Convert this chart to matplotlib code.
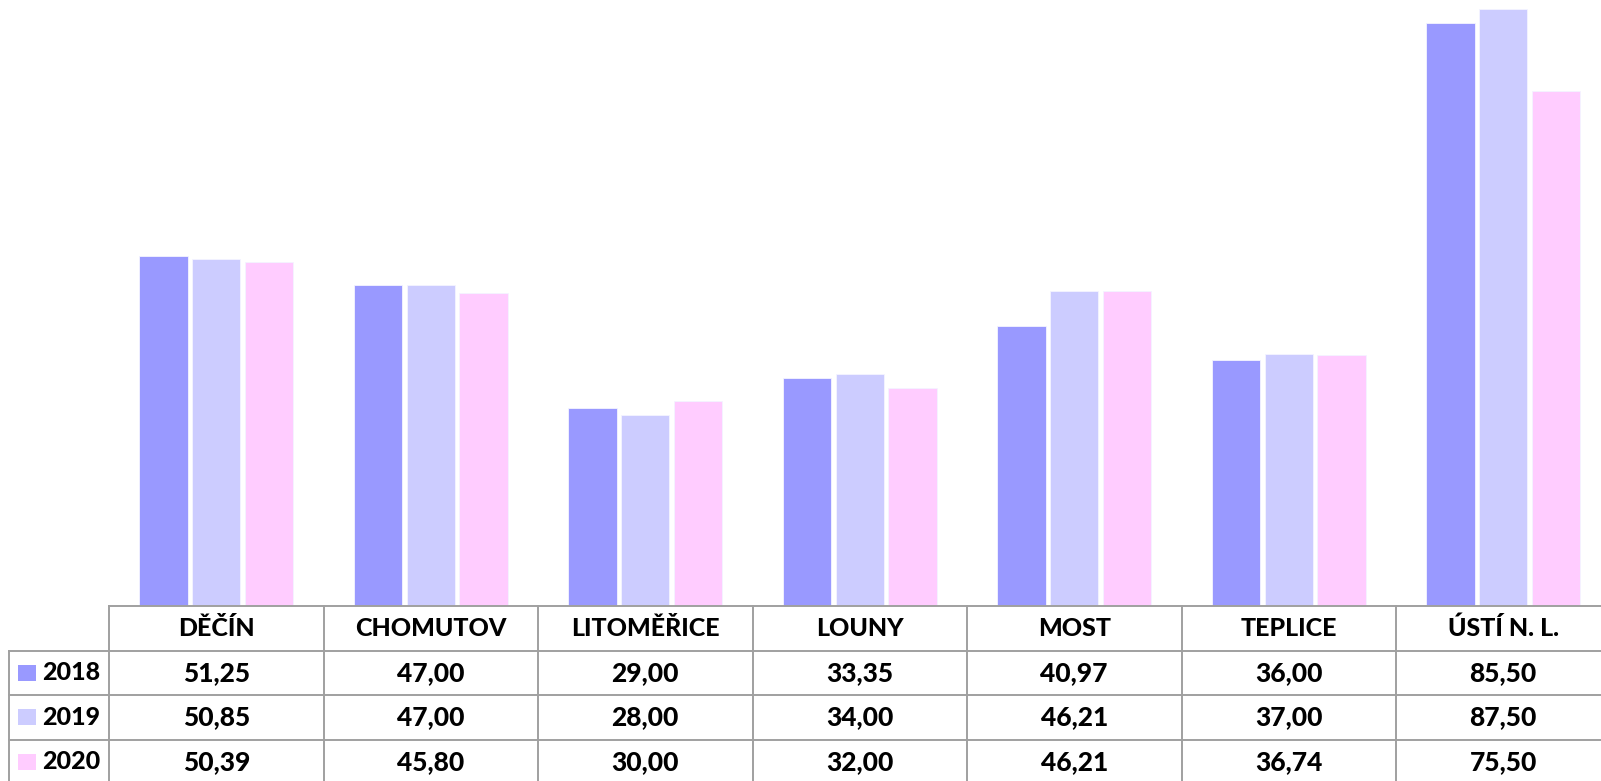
import matplotlib.pyplot as plt
import numpy as np
from matplotlib.patches import Rectangle

plt.rcParams["font.family"] = ["Lato", "DejaVu Sans"]

districts = ["DĚČÍN", "CHOMUTOV", "LITOMĚŘICE", "LOUNY", "MOST", "TEPLICE", "ÚSTÍ N. L."]
years = ["2018", "2019", "2020"]
v2018 = [51.25, 47.00, 29.00, 33.35, 40.97, 36.00, 85.50]
v2019 = [50.85, 47.00, 28.00, 34.00, 46.21, 37.00, 87.50]
v2020 = [50.39, 45.80, 30.00, 32.00, 46.21, 36.74, 75.50]
colors = ["#9999FF", "#CCCCFF", "#FFCCFF"]

W, H = 1601, 781
fig = plt.figure(figsize=(W / 100, H / 100), dpi=100)

# layout in pixels
left = 109          # first category column starts here
col_w = 214.5       # category column width
base_y = 606        # bar baseline / table top
row_h = 44.5
label_left = 9

# bar axes
x_right = (W - left) / col_w - 0.5
ax = fig.add_axes([left / W, (H - base_y) / H, (W - left) / W, base_y / H])
x = np.arange(len(districts))
offset = 0.245
width = 0.226
for k, vals in enumerate([v2018, v2019, v2020]):
    ax.bar(x + (k - 1) * offset, vals, width=width, color=colors[k],
           edgecolor="#F4F4FF", linewidth=0.6)
ax.set_xlim(-0.5, x_right)
ax.set_ylim(0, 88.8)
ax.axis("off")

# data table drawn on an overlay in pixel coordinates
tab = fig.add_axes([0, 0, 1, 1])
tab.set_xlim(0, W)
tab.set_ylim(H, 0)
tab.axis("off")
grid = dict(color="#A0A0A0", linewidth=1.4)

n_rows = len(years)
bottom = base_y + row_h * (n_rows + 1)
tab.plot([left, W], [base_y, base_y], **grid)
for r in range(1, n_rows + 1):
    y = base_y + row_h * r
    tab.plot([label_left, W], [y, y], **grid)
tab.plot([label_left, label_left], [base_y + row_h, bottom], **grid)
for c in range(len(districts) + 1):
    xc = left + col_w * c
    tab.plot([xc, xc], [base_y, bottom], **grid)

font = dict(fontsize=18, fontweight=900, color="black", ha="center", va="center")
for c, name in enumerate(districts):
    tab.text(left + col_w * (c + 0.5), base_y + row_h * 0.5, name, **font)

for r, (yr, vals) in enumerate(zip(years, [v2018, v2019, v2020])):
    yc = base_y + row_h * (r + 1.5)
    tab.add_patch(Rectangle((18, yc - 8), 18, 16, color=colors[r], linewidth=0))
    tab.text(42, yc, yr, **{**font, "ha": "left"})
    for c, v in enumerate(vals):
        tab.text(left + col_w * (c + 0.5), yc, f"{v:.2f}".replace(".", ","),
                 **{**font, "fontsize": 19})

fig.savefig("out.png", dpi=100)
